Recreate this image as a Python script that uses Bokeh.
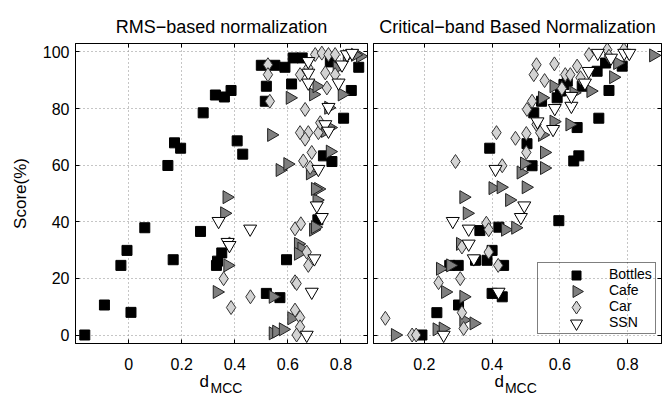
import math
from bokeh.plotting import figure
from bokeh.layouts import row
from bokeh.models import Range1d, LinearAxis, Legend, LegendItem, FixedTicker
from bokeh.embed import file_html
from bokeh.resources import INLINE

FONT = "Liberation Sans"

# ---------------- data ----------------
series_names = ["Bottles", "Cafe", "Car", "SSN"]
panel_titles = ["RMS\u2212based normalization", "Critical\u2212band Based Normalization"]
y_axis_title = "Score(%)"
x_axis_main = "d"
x_axis_sub = "MCC"
y_tick_values = [0, 20, 40, 60, 80, 100]
y_tick_labels = ["0", "20", "40", "60", "80", "100"]
x_tick_values_left = [0.0, 0.2, 0.4, 0.6, 0.8]
x_tick_labels_left = ["0", "0.2", "0.4", "0.6", "0.8"]
x_tick_values_right = [0.2, 0.4, 0.6, 0.8]
x_tick_labels_right = ["0.2", "0.4", "0.6", "0.8"]

# RMS-based normalization
rms_bottles_x = [-0.165, -0.091, 0.009, -0.029, -0.006, 0.061, 0.168, 0.148, 0.173, 0.196, 0.281,
                 0.327, 0.361, 0.386, 0.409, 0.430, 0.271, 0.351, 0.335, 0.331, 0.519, 0.570,
                 0.595, 0.500, 0.551, 0.589, 0.620, 0.654, 0.519, 0.614, 0.515, 0.810, 0.839,
                 0.867, 0.734, 0.766, 0.713, 0.760]
rms_bottles_y = [0.0, 10.6, 8.0, 24.6, 29.9, 37.9, 26.6, 59.9, 67.9, 66.0, 78.5,
                 84.8, 84.1, 86.4, 68.6, 63.9, 36.6, 29.0, 26.1, 24.6, 14.7, 13.2,
                 26.6, 95.3, 95.3, 94.6, 97.9, 97.9, 87.9, 88.7, 82.6, 76.6, 86.4,
                 94.6, 63.3, 61.3, 40.7, 96.5]
rms_cafe_x = [0.370, 0.361, 0.373, 0.333, 0.544, 0.557, 0.582, 0.614, 0.544, 0.639, 0.652,
              0.639, 0.696, 0.703, 0.709, 0.715, 0.703, 0.570, 0.599, 0.684, 0.759, 0.538,
              0.759, 0.741, 0.753, 0.608, 0.696, 0.709, 0.804, 0.785, 0.823, 0.873, 0.854]
rms_cafe_y = [48.7, 43.0, 24.6, 15.2, 0.6, 1.2, 2.0, 5.9, 13.5, 32.2, 30.5,
              28.7, 37.2, 38.1, 47.7, 51.6, 51.6, 58.3, 60.4, 57.1, 64.8, 70.7,
              73.3, 72.1, 80.3, 83.8, 85.0, 87.9, 85.0, 94.4, 98.5, 98.5, 99.0]
rms_car_x = [0.525, 0.525, 0.532, 0.665, 0.646, 0.677, 0.703, 0.728, 0.753, 0.778, 0.741,
             0.778, 0.747, 0.646, 0.677, 0.665, 0.715, 0.722, 0.690, 0.658, 0.684, 0.627,
             0.649, 0.671, 0.677, 0.627, 0.633, 0.627, 0.646, 0.646, 0.633, 0.358, 0.459,
             0.386, 0.380]
rms_car_y = [95.5, 92.0, 82.6, 79.7, 92.0, 94.4, 99.1, 99.6, 99.1, 99.1, 92.6,
             92.0, 87.3, 71.5, 71.5, 69.2, 71.5, 75.0, 64.5, 61.5, 59.2, 37.5,
             39.3, 29.3, 24.6, 18.8, 18.2, 8.8, 6.2, 2.9, 0.0, 19.9, 13.5,
             9.7, 32.2]
rms_ssn_x = [0.339, 0.458, 0.373, 0.380, 0.671, 0.690, 0.700, 0.709, 0.728, 0.715, 0.741,
             0.753, 0.753, 0.677, 0.677, 0.677, 0.791, 0.804, 0.823, 0.842]
rms_ssn_y = [40.2, 37.5, 32.8, 31.7, 0.0, 15.2, 27.0, 45.7, 41.6, 58.6, 74.4,
             72.1, 80.5, 92.6, 96.7, 89.1, 89.1, 95.5, 99.1, 99.6]

# Critical-band based normalization
cb_bottles_x = [0.193, 0.237, 0.301, 0.275, 0.300, 0.351, 0.385, 0.400, 0.434, 0.400, 0.430,
                0.364, 0.420, 0.393, 0.503, 0.518, 0.523, 0.546, 0.597, 0.641, 0.656, 0.651,
                0.715, 0.745, 0.592, 0.602, 0.612, 0.622, 0.710, 0.735, 0.784, 0.666]
cb_bottles_y = [0.0, 7.9, 10.6, 24.6, 24.6, 26.4, 26.4, 29.9, 24.6, 14.7, 13.5,
                36.9, 38.1, 66.0, 67.6, 59.8, 78.5, 82.6, 40.4, 61.5, 63.3, 73.3,
                76.6, 86.4, 83.8, 86.2, 88.5, 89.7, 93.2, 96.1, 95.0, 87.9]
cb_cafe_x = [0.114, 0.237, 0.255, 0.316, 0.262, 0.316, 0.346, 0.247, 0.277, 0.306, 0.316,
             0.326, 0.439, 0.469, 0.402, 0.426, 0.451, 0.500, 0.485, 0.495, 0.554, 0.554,
             0.548, 0.582, 0.629, 0.548, 0.582, 0.641, 0.691, 0.758, 0.876, 0.770]
cb_cafe_y = [0.0, 2.0, 2.3, 13.5, 15.2, 5.3, 4.1, 23.4, 24.6, 32.2, 48.7,
             43.0, 37.2, 37.9, 51.9, 52.2, 47.7, 52.2, 57.4, 60.6, 59.0, 64.5,
             70.7, 75.4, 74.4, 83.8, 87.9, 85.6, 86.2, 91.1, 98.8, 96.1]
cb_car_x = [0.085, 0.164, 0.176, 0.316, 0.311, 0.242, 0.306, 0.418, 0.390, 0.311, 0.383,
            0.390, 0.292, 0.430, 0.413, 0.469, 0.501, 0.501, 0.503, 0.518, 0.531, 0.542,
            0.523, 0.531, 0.555, 0.584, 0.616, 0.631, 0.651, 0.686, 0.740, 0.745, 0.789,
            0.606, 0.661]
cb_car_y = [5.9, 0.0, 0.0, 2.3, 7.9, 18.5, 19.9, 24.6, 29.3, 31.1, 39.5,
            37.2, 61.3, 59.8, 71.5, 69.5, 71.2, 64.5, 79.7, 82.6, 74.4, 71.5,
            92.0, 95.5, 89.9, 95.8, 92.0, 92.0, 95.0, 99.1, 100.8, 98.5, 100.8,
            87.1, 90.9]
cb_ssn_x = [0.257, 0.284, 0.331, 0.331, 0.346, 0.410, 0.419, 0.495, 0.485, 0.534, 0.585,
            0.580, 0.634, 0.634, 0.674, 0.685, 0.712, 0.751, 0.790, 0.805]
cb_ssn_y = [0.0, 40.2, 37.5, 32.2, 27.0, 58.6, 15.2, 45.7, 41.6, 75.4, 80.1,
            72.7, 80.9, 84.4, 89.1, 93.2, 99.6, 97.9, 99.6, 99.6]

# ---------------- styling / layout ----------------
STYLES = {
    "Bottles": dict(marker="square", size=10, fill_color="black", line_color="black", angle=0.0),
    "Cafe": dict(marker="triangle", size=13, fill_color="#7f7f7f", line_color="#222222", angle=-math.pi / 2),
    "Car": dict(marker="diamond", size=14, fill_color="#d3d3d3", line_color="#333333", angle=0.0),
    "SSN": dict(marker="inverted_triangle", size=13, fill_color="white", line_color="black", angle=0.0),
}
Y_RANGE = (-3, 103)
X_RANGE_LEFT = (-0.2, 0.9)
X_RANGE_RIGHT = (0.05, 0.9)
HEIGHT = 398
BORDER_TOP = 43
BORDER_BOTTOM = 55
FRAME_H = HEIGHT - BORDER_TOP - BORDER_BOTTOM
LEFT_W, RIGHT_W = 370, 292
LEFT_BORDERS = (75, 3)
RIGHT_BORDERS = (3, 1)
RIGHT_FRAME_W = RIGHT_W - sum(RIGHT_BORDERS)
# legend geometry (pixels inside right frame, from its bottom-left corner)
LEG_X, LEG_Y, LEG_PAD, LEG_ROW = 164, 9, 3, 16
LEG_KEY_X = 203


def empty_labels(ticks):
    return {t: "" for t in ticks}


def make_fig(width, xr, borders, title, xticks, xlabels, show_y):
    p = figure(width=width, height=HEIGHT, x_range=Range1d(*xr), y_range=Range1d(*Y_RANGE),
               output_backend="svg", toolbar_location=None,
               min_border_left=borders[0], min_border_right=borders[1],
               min_border_top=BORDER_TOP, min_border_bottom=BORDER_BOTTOM)
    p.background_fill_color = "white"
    p.border_fill_color = "white"
    p.outline_line_color = "black"
    p.outline_line_width = 1
    p.title.text = title
    p.title.align = "center"
    p.title.text_font = FONT
    p.title.text_font_size = "18px"
    p.title.text_font_style = "normal"
    p.title.text_color = "black"
    p.title.standoff = 14

    for ax in p.axis:
        ax.major_tick_in = 4
        ax.major_tick_out = 0
        ax.minor_tick_line_color = None
        ax.axis_line_color = "black"
        ax.major_tick_line_color = "black"
        ax.major_label_text_font = FONT
        ax.major_label_text_font_size = "16px"
        ax.major_label_text_color = "black"
    p.xaxis.ticker = FixedTicker(ticks=xticks)
    p.xaxis.major_label_overrides = {t: l for t, l in zip(xticks, xlabels)}
    p.xaxis.major_label_standoff = 14
    p.yaxis.ticker = FixedTicker(ticks=y_tick_values)
    if show_y:
        p.yaxis.major_label_overrides = {t: l for t, l in zip(y_tick_values, y_tick_labels)}
        p.yaxis.major_label_standoff = 6
        p.yaxis.axis_label = y_axis_title
        p.yaxis.axis_label_text_font = FONT
        p.yaxis.axis_label_text_font_size = "17px"
        p.yaxis.axis_label_text_font_style = "normal"
        p.yaxis.axis_label_text_color = "black"
        p.yaxis.axis_label_standoff = 10
    else:
        p.yaxis.major_label_overrides = empty_labels(y_tick_values)
        p.yaxis.major_label_text_font_size = "1px"
        p.yaxis.major_label_standoff = 0

    # mirror ticks on right / top
    ax_r = LinearAxis(ticker=FixedTicker(ticks=y_tick_values), major_tick_in=4, major_tick_out=0,
                      minor_tick_line_color=None, major_label_text_font_size="1px",
                      major_label_overrides=empty_labels(y_tick_values),
                      major_label_standoff=0, axis_line_color="black")
    ax_t = LinearAxis(ticker=FixedTicker(ticks=xticks), major_tick_in=4, major_tick_out=0,
                      minor_tick_line_color=None, major_label_text_font_size="1px",
                      major_label_overrides=empty_labels(xticks),
                      major_label_standoff=0, axis_line_color="black")
    p.add_layout(ax_r, "right")
    p.add_layout(ax_t, "above")

    p.grid.grid_line_color = "#8c8c8c"
    p.grid.grid_line_dash = "1 3"
    p.grid.grid_line_width = 1
    p.xgrid.ticker = FixedTicker(ticks=xticks)
    p.ygrid.ticker = FixedTicker(ticks=y_tick_values)
    return p


def add_subscript_label(p, x_main, x_sub):
    ax_d = LinearAxis(ticker=FixedTicker(ticks=[x_main]), major_label_overrides={x_main: x_axis_main},
                      major_tick_in=0, major_tick_out=0, minor_tick_line_color=None,
                      axis_line_color=None, major_tick_line_color=None,
                      major_label_text_font=FONT, major_label_text_font_size="17px",
                      major_label_text_color="black", major_label_standoff=-1)
    ax_m = LinearAxis(ticker=FixedTicker(ticks=[x_sub]), major_label_overrides={x_sub: x_axis_sub},
                      major_tick_in=0, major_tick_out=0, minor_tick_line_color=None,
                      axis_line_color=None, major_tick_line_color=None,
                      major_label_text_font=FONT, major_label_text_font_size="14px",
                      major_label_text_color="black", major_label_standoff=-14)
    p.add_layout(ax_d, "below")
    p.add_layout(ax_m, "below")


p1 = make_fig(LEFT_W, X_RANGE_LEFT, LEFT_BORDERS, panel_titles[0], x_tick_values_left, x_tick_labels_left, True)
p2 = make_fig(RIGHT_W, X_RANGE_RIGHT, RIGHT_BORDERS, panel_titles[1], x_tick_values_right, x_tick_labels_right, False)
add_subscript_label(p1, 0.285, 0.369)
add_subscript_label(p2, 0.421, 0.485)

left_data = {"Bottles": (rms_bottles_x, rms_bottles_y), "Cafe": (rms_cafe_x, rms_cafe_y),
             "Car": (rms_car_x, rms_car_y), "SSN": (rms_ssn_x, rms_ssn_y)}
right_data = {"Bottles": (cb_bottles_x, cb_bottles_y), "Cafe": (cb_cafe_x, cb_cafe_y),
              "Car": (cb_car_x, cb_car_y), "SSN": (cb_ssn_x, cb_ssn_y)}

for name in series_names:
    s = STYLES[name]
    x, y = left_data[name]
    p1.scatter(x, y, marker=s["marker"], size=s["size"], fill_color=s["fill_color"],
               line_color=s["line_color"], angle=s["angle"], line_width=1)

for name in series_names:
    s = STYLES[name]
    x, y = right_data[name]
    p2.scatter(x, y, marker=s["marker"], size=s["size"], fill_color=s["fill_color"],
               line_color=s["line_color"], angle=s["angle"], line_width=1)

# legend: box + labels from Bokeh's Legend; keys drawn as markers inside the (transparent) box,
# because Bokeh's legend cannot rotate markers
legend_items = []
x_per_px = (X_RANGE_RIGHT[1] - X_RANGE_RIGHT[0]) / RIGHT_FRAME_W
y_per_px = (Y_RANGE[1] - Y_RANGE[0]) / FRAME_H
n = len(series_names)
for i, name in enumerate(series_names):
    s = STYLES[name]
    dummy = p2.scatter([], [], marker="square", size=1, fill_alpha=0, line_alpha=0)
    legend_items.append(LegendItem(label=name, renderers=[dummy]))
    row_center_px = LEG_Y + LEG_PAD + LEG_ROW * (n - i - 0.5)
    kx = X_RANGE_RIGHT[0] + LEG_KEY_X * x_per_px
    ky = Y_RANGE[0] + row_center_px * y_per_px
    p2.scatter([kx], [ky], marker=s["marker"], size=s["size"] - 1, fill_color=s["fill_color"],
               line_color=s["line_color"], angle=s["angle"], line_width=1)

legend = Legend(items=legend_items, location=(LEG_X, LEG_Y), orientation="vertical",
                border_line_color="black", border_line_width=1, background_fill_color="white",
                background_fill_alpha=0.0, label_text_font=FONT, label_text_font_size="14px",
                label_text_color="black",
                glyph_width=60, glyph_height=LEG_ROW, label_height=LEG_ROW, spacing=0,
                padding=LEG_PAD, margin=0, label_standoff=8)
p2.add_layout(legend, "center")

layout = row(p1, p2)
open("out.html", "w").write(file_html(layout, INLINE))
